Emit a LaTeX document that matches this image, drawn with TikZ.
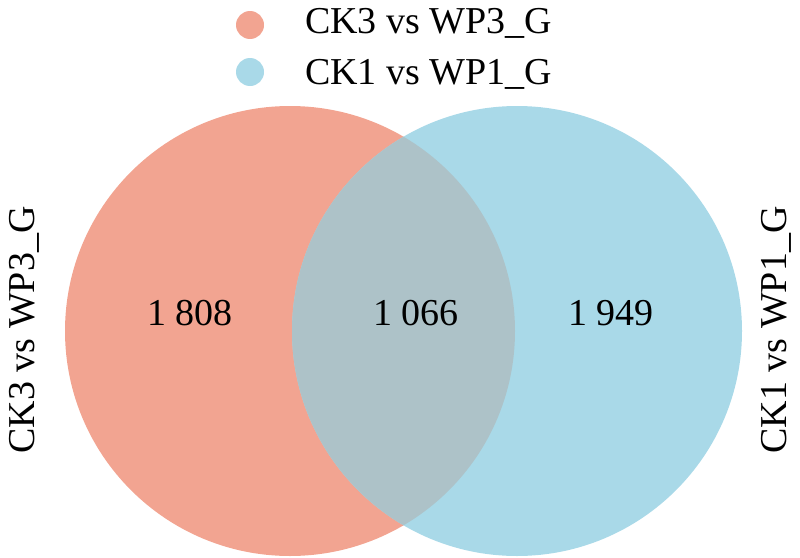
\documentclass[tikz,border=0pt]{standalone}
\usepackage{fontspec}
\setmainfont{Liberation Serif}
\definecolor{salmon}{HTML}{F2A491}
\definecolor{skyb}{HTML}{A9D9E8}
\definecolor{mixc}{HTML}{ADC2C8}
\begin{document}
\begin{tikzpicture}[x=1pt,y=-1pt,
  lbl/.style={font=\fontsize{38}{40}\selectfont, inner sep=0pt},
  num/.style={font=\fontsize{38}{40}\selectfont, inner sep=0pt}]
\useasboundingbox (0,0) rectangle (800,557);
% circles
\fill[salmon] (290,331) circle (225);
\fill[skyb] (517,331) circle (225);
\begin{scope}
  \clip (290,331) circle (225);
  \fill[mixc] (517,331) circle (225);
\end{scope}
% numbers
\node[num] (a) at (190,313) {1 808};
\node[num] (b) at (416,313) {1 066};
\node[num] (c) at (611,313) {1 949};
% legend
\fill[salmon] (250,25) circle (14);
\fill[skyb] (250,72) circle (14);
\node[lbl, anchor=base west] (l1) at (305,33) {CK3 vs WP3\_G};
\node[lbl, anchor=base west] (l2) at (305,84) {CK1 vs WP1\_G};
% side labels
\node[lbl, rotate=90] (s1) at (24,330) {CK3 vs WP3\_G};
\node[lbl, rotate=90] (s2) at (776,330) {CK1 vs WP1\_G};
\end{tikzpicture}
\end{document}
